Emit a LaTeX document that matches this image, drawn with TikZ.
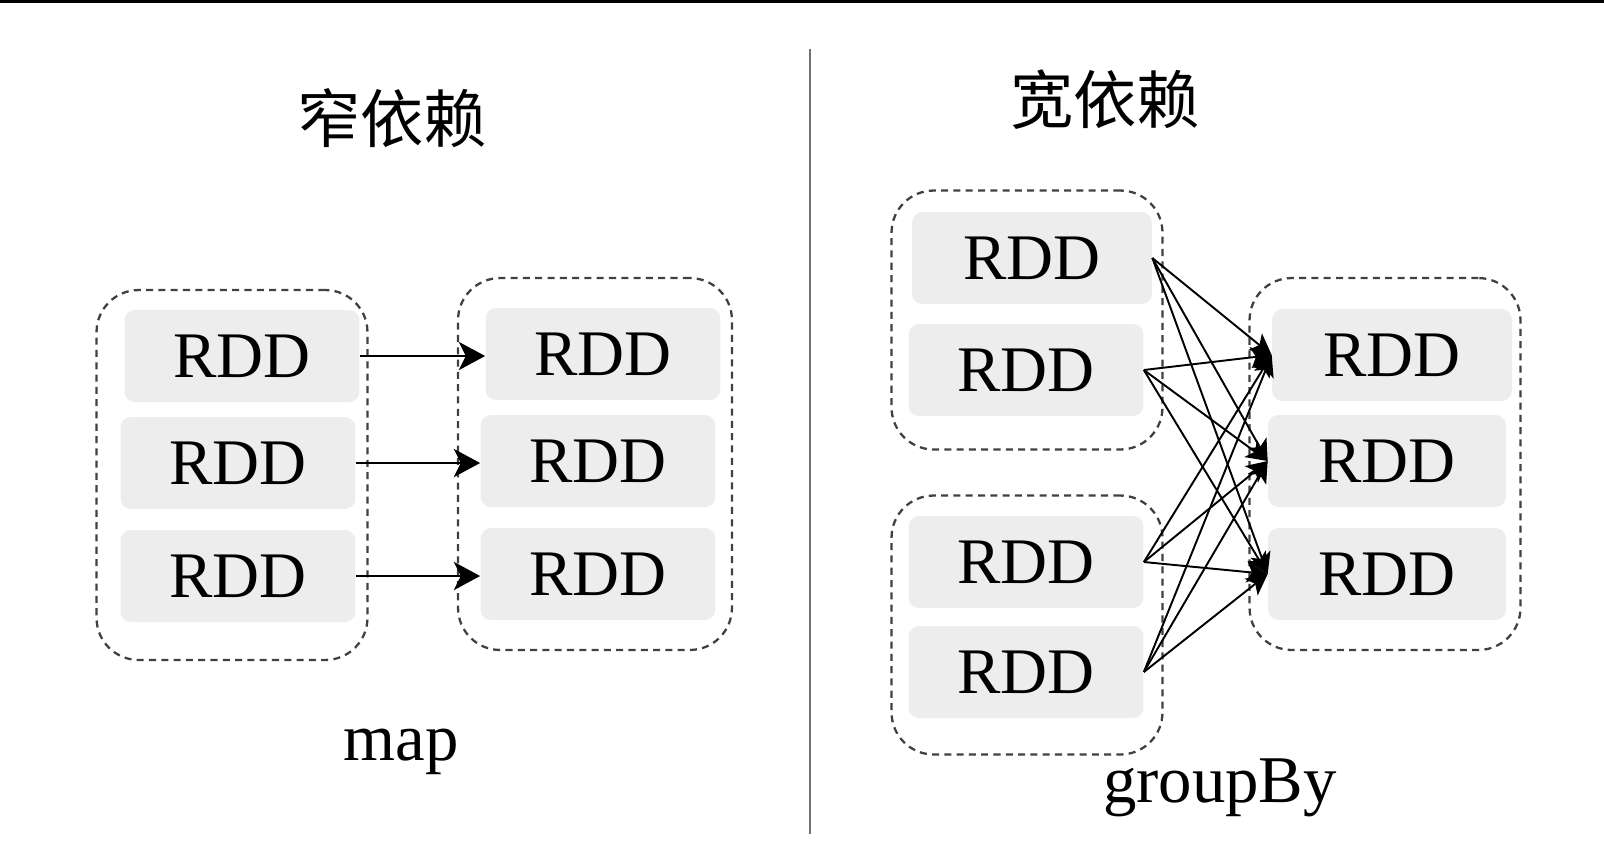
\documentclass[tikz,border=0pt]{standalone}
\usepackage{fontspec}
\setmainfont{Liberation Serif}
\newfontfamily\cjk{Noto Sans CJK SC}
\usetikzlibrary{arrows.meta}
\usetikzlibrary{positioning}
\definecolor{boxgray}{rgb}{0.93, 0.93, 0.93}
\definecolor{dashgray}{rgb}{0.25, 0.25, 0.25}
\definecolor{divgray}{rgb}{0.45, 0.45, 0.45}
\tikzset{rdd/.style = {fill=boxgray, rounded corners=6pt, minimum width=4.7cm, minimum height=1.84cm, inner sep=0, font=\fontsize{37}{40}\selectfont}}
\tikzset{grp/.style = {draw=dashgray, dash pattern=on 4pt off 3pt, line width=1.3pt, rounded corners=24pt, inner sep=0}}
\tikzset{title/.style = {font=\cjk\fontsize{36}{40}\selectfont}}
\tikzset{oplabel/.style = {font=\fontsize{38}{42}\selectfont}}

\begin{document}
\begin{tikzpicture}[x=0.02cm, y=-0.02cm]
    \useasboundingbox (0, 0) rectangle (1604, 860);
    \fill (0, 0) rectangle (1604, 3);
    \coordinate (d1) at (810, 49);
    \coordinate (d2) at (810, 834);
    \draw [divgray, line width=1.6pt] (d1) -- (d2);

    % narrow
    \node [title] (tn) at (392, 118) {窄依赖};
    \node [grp, minimum width=5.42cm, minimum height=7.4cm] (gl) at (232, 475) {};
    \node [grp, minimum width=5.48cm, minimum height=7.44cm] (gr) at (595, 464) {};
    \node [rdd] (l1) at (242, 356) {RDD};
    \node [rdd] (l2) at (238, 463) {RDD};
    \node [rdd] (l3) at (238, 576) {RDD};
    \node [rdd] (r1) at (603, 354) {RDD};
    \node [rdd] (r2) at (598, 461) {RDD};
    \node [rdd] (r3) at (598, 574) {RDD};
    \foreach \i in {1,2,3} {
      \draw [-{Stealth[length=15pt, width=16pt, inset=4pt]}, line width=1.6pt] (l\i.east) -- (r\i.west |- l\i.east);
    }
    \node [oplabel] (map) at (401, 752) {map};

    % wide
    \node [title] (tw) at (1105, 100) {宽依赖};
    \node [grp, minimum width=5.42cm, minimum height=5.18cm] (ga) at (1027, 320) {};
    \node [grp, minimum width=5.42cm, minimum height=5.18cm] (gb) at (1027, 625) {};
    \node [grp, minimum width=5.42cm, minimum height=7.44cm] (gc) at (1385, 464) {};
    \node [rdd, minimum width=4.8cm] (a1) at (1032, 258) {RDD};
    \node [rdd] (a2) at (1026, 370) {RDD};
    \node [rdd] (a3) at (1026, 562) {RDD};
    \node [rdd] (a4) at (1026, 672) {RDD};
    \node [rdd, minimum width=4.8cm] (b1) at (1392, 355) {RDD};
    \node [rdd, minimum width=4.76cm] (b2) at (1387, 461) {RDD};
    \node [rdd, minimum width=4.76cm] (b3) at (1387, 574) {RDD};
    \foreach \i in {1,2,3,4} {
      \foreach \j in {1,2,3} {
        \draw [-{Stealth[length=12pt, width=12pt, inset=3pt]}, line width=1.1pt] (a\i.east) -- (b\j.west);
      }
    }
    \node [oplabel] (gby) at (1220, 788) {groupBy};
  \end{tikzpicture}
\end{document}
